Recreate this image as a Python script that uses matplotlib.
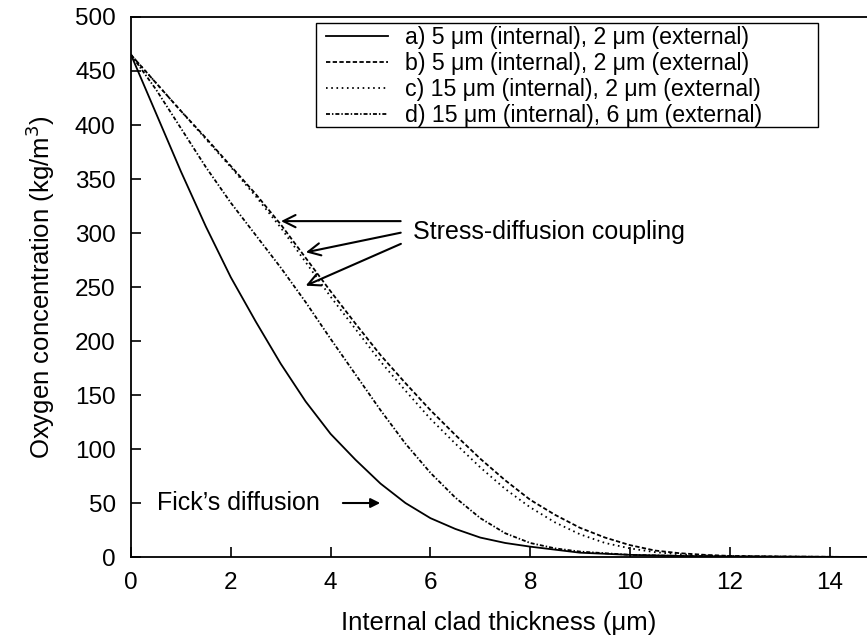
import matplotlib
matplotlib.use("Agg")
import matplotlib.pyplot as plt
from matplotlib.patches import Rectangle

plt.rcParams['font.family'] = ['Liberation Sans', 'DejaVu Sans']

# Data
x_a = [0, 0.5, 1, 1.5, 2, 2.5, 3, 3.5, 4, 4.5, 5, 5.5, 6, 6.5, 7, 7.5, 8, 9, 10, 11, 12, 14.75]
y_a = [465, 411, 357, 306, 259, 218, 179, 144, 114, 90, 68, 50, 36, 26, 18, 13, 9.6, 4, 2, 1, 0.5, 0]

x_b = [0, 0.5, 1, 1.5, 2, 2.5, 3, 3.5, 4, 4.5, 5, 5.5, 6, 6.5, 7, 7.5, 8, 8.5, 9, 9.5, 10, 10.5, 11, 11.5, 12, 13, 14.75]
y_b = [465, 439, 413, 388, 362, 336, 308, 277, 246, 216, 187, 161, 136, 113, 91, 71, 53, 39, 27, 18, 11, 6, 3.5, 2, 1, 0.4, 0]

x_c = [0, 0.5, 1, 1.5, 2, 2.5, 3, 3.5, 4, 4.5, 5, 5.5, 6, 6.5, 7, 7.5, 8, 8.5, 9, 9.5, 10, 10.5, 11, 11.5, 12, 13, 14.75]
y_c = [465, 439, 413, 387, 361, 334, 305, 273, 241, 211, 181, 154, 128, 105, 83, 63, 46, 32, 21, 13, 8, 4.5, 2.5, 1.4, 0.8, 0.3, 0]

x_d = [0, 0.5, 1, 1.5, 2, 2.5, 3, 3.5, 4, 4.5, 5, 5.5, 6, 6.5, 7, 7.5, 8, 8.5, 9, 10, 11, 12, 14.75]
y_d = [465, 433, 397, 361, 328, 298, 268, 236, 202, 169, 136, 105, 78, 55, 36, 22, 13, 8, 5, 2, 1, 0.5, 0]

labels = [
    "a) 5 μm (internal), 2 μm (external)",
    "b) 5 μm (internal), 2 μm (external)",
    "c) 15 μm (internal), 2 μm (external)",
    "d) 15 μm (internal), 6 μm (external)",
]

xticks = [0, 2, 4, 6, 8, 10, 12, 14]
yticks = [0, 50, 100, 150, 200, 250, 300, 350, 400, 450, 500]

fig = plt.figure(figsize=(8.67, 6.39), dpi=100)
ax = fig.add_axes([0.1511, 0.1283, 0.8489, 0.8451])

lw = 1.3
ax.plot(x_a, y_a, color='black', lw=lw, ls='-', label=labels[0])
ax.plot(x_b, y_b, color='black', lw=lw, ls=(0, (2.4, 1.3)), label=labels[1])
ax.plot(x_c, y_c, color='black', lw=lw, ls=(0, (0.9, 2.0)), label=labels[2])
ax.plot(x_d, y_d, color='black', lw=lw, ls=(0, (2.2, 1.1, 0.8, 1.1)), label=labels[3])

ax.set_xlim(0, 14.75)
ax.set_ylim(0, 500)
ax.set_xticks(xticks)
ax.set_yticks(yticks)
ax.tick_params(direction='in', length=7, width=1.2, labelsize=17.5, top=False, right=False)
ax.tick_params(axis='x', pad=11)
ax.tick_params(axis='y', pad=11)
for s in ['left', 'bottom', 'top']:
    ax.spines[s].set_linewidth(1.3)
ax.spines['right'].set_visible(False)

ax.set_xlabel("Internal clad thickness (μm)", fontsize=18.5, labelpad=12)
ax.set_ylabel("Oxygen concentration (kg/m$^3$)", fontsize=18.5, labelpad=13)

# legend frame (wider than content, as in the reference)
ax.add_patch(Rectangle((0.2517, 0.796), 0.6816, 0.1929, transform=ax.transAxes,
                       fill=False, edgecolor='black', lw=1.0, zorder=5))
leg = ax.legend(loc='upper left', bbox_to_anchor=(0.2645, 0.983), fontsize=16.7, frameon=False,
                handlelength=2.7, handletextpad=0.7, borderpad=0.0, labelspacing=0.13,
                borderaxespad=0)

ap = dict(arrowstyle='->', color='black', lw=1.5, mutation_scale=22)
ax.text(5.65, 300.5, "Stress-diffusion coupling", fontsize=18, va='center', ha='left')
ax.annotate("", xy=(2.95, 311), xytext=(5.46, 311), arrowprops=ap)
ax.annotate("", xy=(3.45, 281.6), xytext=(5.46, 300.8), arrowprops=ap)
ax.annotate("", xy=(3.45, 250.2), xytext=(5.46, 291), arrowprops=ap)

ax.text(0.52, 50, "Fick’s diffusion", fontsize=18, va='center', ha='left')
ax.annotate("", xy=(5.05, 50), xytext=(4.19, 50),
            arrowprops=dict(arrowstyle='-|>', color='black', lw=1.5, mutation_scale=14))

fig.savefig("out.png", dpi=100)
